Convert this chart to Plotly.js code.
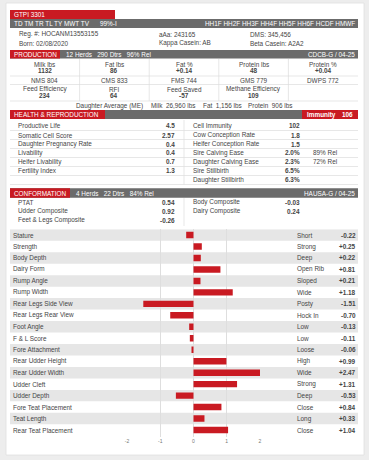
<!DOCTYPE html>
<html><head><meta charset="utf-8">
<script src="https://cdn.plot.ly/plotly-3.0.1.min.js"></script>
<style>html,body{margin:0;padding:0;background:#ededed;}#chart{width:369px;height:460px;}</style>
</head><body><div id="chart"></div>
<script>
// ---------- DATA ----------
const headerTitle = 'GTPI 3301';
const haplotypesLeft = 'TD TM TR TL TY MWT TV';
const reliabilityTop = '99%-I';
const haplotypesRight = 'HH1F HH2F HH3F HH4F HH5F HH6F HCDF HMWF';
const idLeft = ['Reg. #: HOCANM13553155', 'Born: 02/08/2020'];
const idMid = ['aAa: 243165', 'Kappa Casein: AB'];
const idRight = ['DMS: 345,456', 'Beta Casein: A2A2'];

const prodInfo = '12 Herds   290 Dtrs   96% Rel';
const prodSource = 'CDCB-G / 04-25';
const prodLabels = ['Milk lbs', 'Fat lbs', 'Fat %', 'Protein lbs', 'Protein %'];
const prodValues = ['1132', '86', '+0.14', '48', '+0.04'];
const indexNames = ['NMS', 'CMS', 'FMS', 'GMS', 'DWPS'];
const indexValues = [804, 833, 744, 779, 772];
const feedLabels = ['Feed Efficiency', 'RFI', 'Feed Saved', 'Methane Efficiency'];
const feedValues = ['234', '64', '-57', '109'];
const dtrAvgNames = ['Milk', 'Fat', 'Protein'];
const dtrAvgValues = ['26,960 lbs', '1,156 lbs', '906 lbs'];

const immunityValue = '106';
const healthLeftNames = ['Productive Life', 'Somatic Cell Score', 'Daughter Pregnancy Rate', 'Livability', 'Heifer Livability', 'Fertility Index'];
const healthLeftValues = ['4.5', '2.57', '0.4', '0.4', '0.7', '1.3'];
const healthRightNames = ['Cell Immunity', 'Cow Conception Rate', 'Heifer Conception Rate', 'Sire Calving Ease', 'Daughter Calving Ease', 'Sire Stillbirth', 'Daughter Stillbirth'];
const healthRightValues = ['102', '1.8', '1.5', '2.0%', '2.3%', '6.5%', '6.3%'];
const healthRightRel = ['', '', '', '89% Rel', '72% Rel', '', ''];

const confInfo = '4 Herds   22 Dtrs   84% Rel';
const confSource = 'HAUSA-G / 04-25';
const compLeftNames = ['PTAT', 'Udder Composite', 'Feet & Legs Composite'];
const compLeftValues = ['0.54', '0.92', '-0.26'];
const compRightNames = ['Body Composite', 'Dairy Composite'];
const compRightValues = ['-0.03', '0.24'];

const traitNames = ['Stature', 'Strength', 'Body Depth', 'Dairy Form', 'Rump Angle', 'Rump Width', 'Rear Legs Side View', 'Rear Legs Rear View', 'Foot Angle', 'F & L Score', 'Fore Attachment', 'Rear Udder Height', 'Rear Udder Width', 'Udder Cleft', 'Udder Depth', 'Fore Teat Placement', 'Teat Length', 'Rear Teat Placement'];
const traitValues = [-0.22, 0.25, 0.22, 0.81, 0.21, 1.18, -1.51, -0.70, -0.13, -0.11, -0.06, 0.99, 2.47, 1.31, -0.53, 0.84, 0.33, 1.04];
const traitLabels = ['Short', 'Strong', 'Deep', 'Open Rib', 'Sloped', 'Wide', 'Posty', 'Hock In', 'Low', 'Low', 'Loose', 'High', 'Wide', 'Strong', 'Deep', 'Close', 'Long', 'Close'];
const axisTicks = [-2, -1, 0, 1, 2];

// ---------- STYLE / HELPERS ----------
const W = 369, H = 460;
const RED = '#c91a22', GREY = '#6b6b6b', STRIPE = '#e6e6e6', LINE = '#dcdcdc', TXT = '#454545';
const FONT = 'Liberation Sans, Arial, sans-serif';
const FS = 6.4;
const px = x => x / W;
const py = y => 1 - y / H;
const shapes = [];
const annotations = [];
function rect(x0, y0, x1, y1, fill, line) {
  shapes.push({type: 'rect', xref: 'paper', yref: 'paper', x0: px(x0), x1: px(x1), y0: py(y1), y1: py(y0),
    fillcolor: fill, line: line ? {color: line, width: 0.8} : {width: 0}, layer: 'below'});
}
function hline(x0, x1, y, color) {
  shapes.push({type: 'line', xref: 'paper', yref: 'paper', x0: px(x0), x1: px(x1), y0: py(y), y1: py(y), line: {color: color || LINE, width: 0.7}, layer: 'below'});
}
function vline(x, y0, y1, color) {
  shapes.push({type: 'line', xref: 'paper', yref: 'paper', x0: px(x), x1: px(x), y0: py(y0), y1: py(y1), line: {color: color || LINE, width: 0.7}, layer: 'below'});
}
function txt(text, x, y, anchor, opts) {
  opts = opts || {};
  annotations.push({text: text, x: px(x), y: py(y), xref: 'paper', yref: 'paper', xanchor: anchor || 'left', yanchor: 'middle',
    showarrow: false, borderpad: 0,
    font: {family: FONT, size: opts.size || FS, color: opts.color || TXT, weight: opts.bold ? 'bold' : 'normal'}});
}
const fmt = v => (v > 0 ? '+' : '') + v.toFixed(2);

// card
rect(6, 3, 364, 455, '#ffffff', '#e0e0e0');

// top header
rect(10, 10, 115, 19, RED);
txt(headerTitle, 13, 14.6, 'left', {color: '#fff'});
rect(10, 19, 358, 28, GREY);
txt(haplotypesLeft, 13, 23.6, 'left', {color: '#fff'});
txt(reliabilityTop, 99, 23.6, 'left', {color: '#fff'});
txt(haplotypesRight, 356, 23.6, 'right', {color: '#fff'});
for (let i = 0; i < 2; i++) {
  txt(idLeft[i], 18, 34 + 9 * i);
  txt(idMid[i], 158, 34 + 9 * i);
  txt(idRight[i], 249, 34 + 9 * i);
}

// production
rect(10, 50, 358, 58.5, GREY);
rect(10, 50, 60, 58.5, RED);
txt('PRODUCTION', 13, 54.4, 'left', {color: '#fff'});
txt(prodInfo, 65, 54.4, 'left', {color: '#fff'});
txt(prodSource, 356, 54.4, 'right', {color: '#fff'});
const colW = (358 - 10) / 5;
for (let k = 1; k < 5; k++) vline(10 + colW * k, 59, 101);
hline(10, 358, 76); hline(10, 358, 84.5); hline(10, 358, 101);
for (let k = 0; k < 5; k++) {
  const cx = 10 + colW * (k + 0.5);
  txt(prodLabels[k], cx, 64.3, 'center');
  txt(prodValues[k], cx, 70.5, 'center', {bold: true});
  txt(indexNames[k] + ' ' + indexValues[k], cx, 80.3, 'center');
  if (k < feedLabels.length) {
    txt(feedLabels[k], cx, 89.2, 'center');
    txt(feedValues[k], cx, 95.3, 'center', {bold: true});
  }
}
txt('Daughter Average (ME)', 75, 105.5);
const dtrX = [150, 202, 247];
for (let k = 0; k < 3; k++) txt(dtrAvgNames[k] + '\u00a0\u00a0' + dtrAvgValues[k], dtrX[k], 105.5);

// health & reproduction
rect(10, 110, 358, 119, GREY);
rect(10, 110, 105, 119, RED);
rect(302, 110, 358, 119, RED);
txt('HEALTH & REPRODUCTION', 13, 114.6, 'left', {color: '#fff'});
txt('Immunity', 306, 114.6, 'left', {color: '#fff', bold: true});
txt(immunityValue, 354, 114.6, 'right', {color: '#fff', bold: true});
vline(184, 120, 184.5);
for (let i = 0; i < 7; i++) {
  const y = 126 + 9 * i;
  hline(10, 358, y + 4.5);
  if (i < healthLeftNames.length) {
    txt(healthLeftNames[i], 17, y);
    txt(healthLeftValues[i], 176, y, 'right', {bold: true});
  }
  txt(healthRightNames[i], 192, y);
  txt(healthRightValues[i], 301, y, 'right', {bold: true});
  if (healthRightRel[i]) txt(healthRightRel[i], 312, y);
}

// conformation
rect(10, 188.3, 358, 197.7, GREY);
rect(10, 188.3, 70, 197.7, RED);
txt('CONFORMATION', 13, 193, 'left', {color: '#fff'});
txt(confInfo, 75, 193, 'left', {color: '#fff'});
txt(confSource, 356, 193, 'right', {color: '#fff'});
vline(184, 198, 226);
for (let i = 0; i < compLeftNames.length; i++) {
  const y = 202.3 + 9 * i;
  txt(compLeftNames[i], 17, y);
  txt(compLeftValues[i], 176, y, 'right', {bold: true});
  if (i < compRightNames.length) {
    txt(compRightNames[i], 192, y);
    txt(compRightValues[i], 301, y, 'right', {bold: true});
  }
}

// linear traits: stripes + labels tied to the bar chart y axis
for (let i = 0; i < traitNames.length; i++) {
  if (i % 2 === 0) {
    shapes.push({type: 'rect', xref: 'paper', yref: 'y', x0: px(10), x1: px(358), y0: i - 0.5, y1: i + 0.5,
      fillcolor: STRIPE, line: {width: 0}, layer: 'below'});
  }
  const base = {xref: 'paper', yref: 'y', y: traitNames[i], yanchor: 'middle', showarrow: false, borderpad: 0};
  annotations.push(Object.assign({}, base, {text: traitNames[i], x: px(12), xanchor: 'left', font: {family: FONT, size: FS, color: TXT}}));
  annotations.push(Object.assign({}, base, {text: traitLabels[i], x: px(296), xanchor: 'left', font: {family: FONT, size: FS, color: TXT}}));
  annotations.push(Object.assign({}, base, {text: fmt(traitValues[i]), x: px(357), xanchor: 'right', font: {family: FONT, size: FS, color: TXT, weight: 'bold'}}));
}

const rowTop = 229.3, rowPitch = 11.47, plotBottom = 437;
const yBottom = -0.5 + (plotBottom - rowTop) / rowPitch;

const data = [{
  type: 'bar', orientation: 'h', x: traitValues, y: traitNames,
  marker: {color: RED, line: {width: 0}}, width: 0.56, hoverinfo: 'none'
}];

const layout = {
  width: W, height: H, margin: {l: 0, r: 0, t: 0, b: 0, pad: 0},
  paper_bgcolor: '#ededed', plot_bgcolor: 'rgba(0,0,0,0)',
  showlegend: false,
  font: {family: FONT, size: FS, color: TXT},
  xaxis: {domain: [px(127), px(260)], range: [-2, 2], tickvals: axisTicks, ticktext: axisTicks.map(String),
    showgrid: true, gridcolor: '#dedede', gridwidth: 1, zeroline: false, showline: false, ticks: '',
    tickfont: {family: FONT, size: 5, color: '#777'}, fixedrange: true},
  yaxis: {domain: [py(plotBottom), py(rowTop)], type: 'category', range: [yBottom, -0.5],
    showticklabels: false, showgrid: false, zeroline: false, showline: false, ticks: '', fixedrange: true},
  shapes: shapes, annotations: annotations
};

Plotly.newPlot('chart', data, layout, {displayModeBar: false, staticPlot: true});
</script></body></html>
